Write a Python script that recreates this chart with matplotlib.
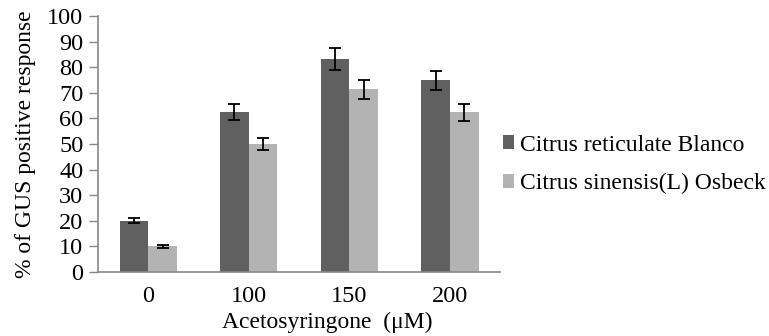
import matplotlib
matplotlib.use("Agg")
import matplotlib.pyplot as plt
import numpy as np

categories = ["0", "100", "150", "200"]
series_names = ["Citrus reticulate Blanco", "Citrus sinensis(L) Osbeck"]
reticulata = [20, 62.5, 83.3, 75]
reticulata_err = [1.0, 3.2, 4.4, 3.7]
sinensis = [10, 50, 71.4, 62.5]
sinensis_err = [0.7, 2.5, 3.6, 3.3]

plt.rcParams['font.family'] = ['Liberation Serif', 'DejaVu Serif']

fig = plt.figure(figsize=(7.69, 3.36), dpi=100)
ax = fig.add_axes([0.1274, 0.1905, 0.523, 0.7615])

x = np.arange(len(categories))
w = 0.285
err_kw = dict(ecolor='black', elinewidth=1.3, capsize=4, capthick=1.3)
ax.bar(x - w/2, reticulata, w, yerr=reticulata_err, color='#606060',
       label=series_names[0], error_kw=err_kw)
ax.bar(x + w/2, sinensis, w, yerr=sinensis_err, color='#b3b3b3',
       label=series_names[1], error_kw=err_kw)

ax.set_xlim(-0.5, 3.5)
ax.set_ylim(0, 100)
ax.set_yticks(range(0, 101, 10))
ax.set_xticks(x)
ax.set_xticklabels(categories)
ax.tick_params(axis='y', labelsize=17.5, length=6.5, color='#888888', width=1, pad=4)
ax.tick_params(axis='x', labelsize=17.5, length=0, pad=10)
for s in ['top', 'right']:
    ax.spines[s].set_visible(False)
for s in ['left', 'bottom']:
    ax.spines[s].set_color('#888888')
    ax.spines[s].set_linewidth(1.2)

ax.set_ylabel("% of GUS positive response", fontsize=17)
ax.yaxis.set_label_coords(-0.155, 0.5)
ax.set_xlabel("Acetosyringone  (μM)", fontsize=17)
ax.xaxis.set_label_coords(0.57, -0.155)

ax.legend(loc='center left', bbox_to_anchor=(1.0, 0.42), frameon=False,
          fontsize=17, handlelength=0.5, handleheight=0.5, handletextpad=0.25,
          labelspacing=0.75, borderaxespad=0.1, borderpad=0.0)

fig.savefig("out.png", dpi=100)
